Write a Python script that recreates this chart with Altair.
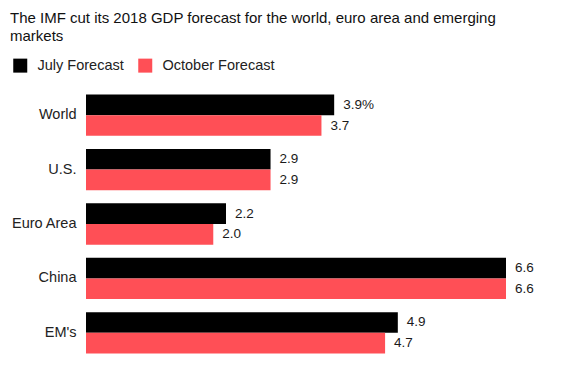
import altair as alt
import pandas as pd

categories = ["World", "U.S.", "Euro Area", "China", "EM's"]
series = ["July Forecast", "October Forecast"]
july = [3.9, 2.9, 2.2, 6.6, 4.9]
october = [3.7, 2.9, 2.0, 6.6, 4.7]
colors = ["#000000", "#ff4f56"]

rows = []
for i, c in enumerate(categories):
    for s, vals in zip(series, [july, october]):
        v = vals[i]
        lab = f"{v:.1f}"
        if i == 0 and s == series[0]:
            lab += "%"
        rows.append({"region": c, "series": s, "value": v, "label": lab})
df = pd.DataFrame(rows)

FONT = "Liberation Sans"

base = alt.Chart(df).encode(
    y=alt.Y("region:N", sort=categories,
            scale=alt.Scale(paddingInner=0.24, paddingOuter=0.12),
            axis=alt.Axis(title=None, ticks=False, domain=False, labelPadding=10,
                          labelFontSize=14.5, labelColor="#222", labelFont=FONT)),
    yOffset=alt.YOffset("series:N", sort=series),
)

bars = base.mark_bar().encode(
    x=alt.X("value:Q", scale=alt.Scale(domain=[0, 6.6], nice=False), axis=None),
    color=alt.Color("series:N", sort=series,
                    scale=alt.Scale(domain=series, range=colors),
                    legend=alt.Legend(orient="none", legendX=-73, legendY=-30,
                                      direction="horizontal", title=None,
                                      symbolType="square", symbolSize=196,
                                      symbolStrokeWidth=0, labelFontSize=14.5,
                                      labelFont=FONT, labelColor="#222",
                                      labelOffset=10, columnPadding=14, padding=0)),
)

text = base.mark_text(align="left", baseline="middle", dx=9, fontSize=13.5,
                      font=FONT, color="#1a1a1a").encode(
    x="value:Q", text="label:N"
)

chart = alt.layer(bars, text).properties(
    width=420, height=272,
    autosize=alt.AutoSizeParams(type="none"),
    padding={"left": 78, "top": 80, "right": 60, "bottom": 4},
    title=alt.TitleParams(
        text=["The IMF cut its 2018 GDP forecast for the world, euro area and emerging", "markets"],
        anchor="start", frame="group", fontSize=15, fontWeight="normal", font=FONT,
        color="#111", dx=-76, dy=-14, lineHeight=18.5, offset=0),
).configure_view(stroke=None)

chart.save("out.html", embed_options={"renderer": "svg", "actions": False})
